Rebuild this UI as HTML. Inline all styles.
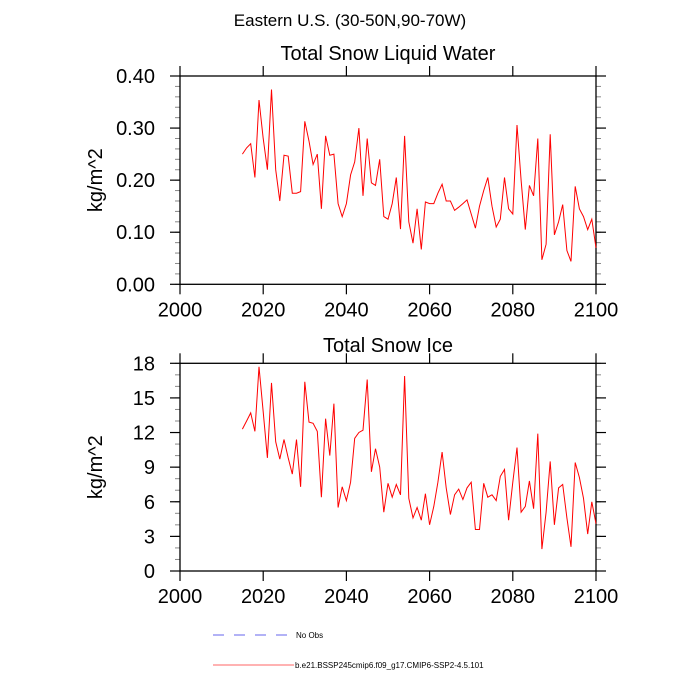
<!DOCTYPE html>
<html><head><meta charset="utf-8"><style>
body{margin:0;background:#fff}
svg{display:block;font-family:"Liberation Sans",sans-serif}
</style></head><body>
<svg id="c" width="700" height="700" viewBox="0 0 700 700">
<text x="350" y="26" font-size="17" text-anchor="middle">Eastern U.S. (30-50N,90-70W)</text>
</svg>
<script>
const years=[];for(let y=2015;y<=2100;y++)years.push(y);
const liquidWater=[0.25,0.262,0.27,0.205,0.354,0.28,0.22,0.374,0.22,0.16,0.248,0.246,0.175,0.175,0.178,0.313,0.275,0.23,0.25,0.145,0.285,0.248,0.25,0.155,0.13,0.155,0.21,0.235,0.30,0.17,0.28,0.195,0.19,0.24,0.13,0.125,
0.155,0.205,0.106,0.285,0.12,0.079,0.145,0.067,0.158,0.155,0.155,0.175,0.192,0.16,0.16,0.142,0.148,0.155,0.162,0.135,0.108,0.15,0.18,0.205,0.15,0.11,0.125,0.205,0.145,0.135,0.306,0.2,0.105,0.19,0.17,0.28,0.047,0.077,0.288,0.095,0.12,0.153,0.065,0.044,0.188,0.145,0.13,0.105,0.125,0.07];
const snowIce=[12.3,13.0,13.7,12.1,17.7,13.8,9.8,16.3,11.2,9.7,11.4,9.8,8.4,11.4,7.3,16.4,12.9,12.8,12.1,6.4,13.2,10.0,14.5,5.5,7.3,6.1,7.7,11.5,12.0,12.2,16.6,8.6,10.6,9.0,5.1,7.6,
6.4,7.5,6.6,16.9,6.3,4.6,5.5,4.4,6.7,4.0,5.6,7.7,10.3,7.2,4.9,6.6,7.1,6.2,7.2,7.7,3.6,3.6,7.6,6.4,6.6,6.1,8.2,8.8,4.4,7.7,10.7,5.1,5.6,7.8,5.4,11.9,1.9,5.1,9.5,4.0,7.2,7.5,4.6,2.1,9.4,8.1,6.3,3.2,6.0,4.1];
const xTicks=[2000,2020,2040,2060,2080,2100];
const topTicks=["0.00","0.10","0.20","0.30","0.40"];
const botTicks=["0","3","6","9","12","15","18"];
const NS="http://www.w3.org/2000/svg";
const svg=document.getElementById('c');
function mk(t,a,p){const e=document.createElementNS(NS,t);for(const k in a)e.setAttribute(k,a[k]);(p||svg).appendChild(e);return e;}
const X0=180,X1=596;
const xs=v=>X0+(v-2000)/100*(X1-X0);
function panel(name,top,bot,ymax,ticks,minorStep,data,title,titleY){
  const g=mk('g',{});
  
  
  const ys=v=>bot-(v/ymax)*(bot-top);
  const t=mk('text',{x:388,y:titleY,'font-size':20,'text-anchor':'middle'},g);t.textContent=title;
  
  
  for(let v=0;v<=ymax+1e-9;v+=minorStep){
    const y=ys(v);
    mk('line',{x1:X0-5,x2:X0,y1:y,y2:y,stroke:'#888','stroke-width':1},g);
    mk('line',{x1:X1,x2:X1+5,y1:y,y2:y,stroke:'#888','stroke-width':1},g);
  }
  ticks.forEach(s=>{
    const v=parseFloat(s),y=ys(v);
    mk('line',{x1:X0-10,x2:X0,y1:y,y2:y,stroke:'#000','stroke-width':1.2},g);
    mk('line',{x1:X1,x2:X1+10,y1:y,y2:y,stroke:'#000','stroke-width':1.2},g);
    const l=mk('text',{x:X0-25,y:y+7,'font-size':20,'text-anchor':'end'},g);l.textContent=s;
    
    
  });
  xTicks.forEach(v=>{
    const x=xs(v);
    mk('line',{x1:x,x2:x,y1:top-10,y2:top,stroke:'#000','stroke-width':1.2},g);
    mk('line',{x1:x,x2:x,y1:bot,y2:bot+10,stroke:'#000','stroke-width':1.2},g);
    const l=mk('text',{x:x,y:bot+32,'font-size':20,'text-anchor':'middle'},g);l.textContent=v;
    
    
  });
  mk('rect',{x:X0,y:top,width:X1-X0,height:bot-top,fill:'none',stroke:'#000','stroke-width':1.3},g);
  const yl=mk('text',{x:0,y:0,'font-size':20,'text-anchor':'middle',transform:`translate(102,${(top+bot)/2}) rotate(-90)`},g);yl.textContent='kg/m^2';
  
  
  const pts=data.map((v,i)=>xs(years[i]).toFixed(1)+','+ys(v).toFixed(1)).join(' ');
  const pl=mk('polyline',{points:pts,fill:'none',stroke:'#f00','stroke-width':1},g);
  
  
}
panel('liquid-water-panel',76,284.3,0.4,topTicks,0.02,liquidWater,'Total Snow Liquid Water',60);
panel('snow-ice-panel',363.3,571,18,botTicks,1,snowIce,'Total Snow Ice',352);
const lg=mk('g',{});


mk('line',{x1:213,x2:287,y1:635,y2:635,stroke:'#6666ee','stroke-width':1,'stroke-dasharray':'11,10'},lg);
let t1=mk('text',{x:296,y:638,'font-size':8},lg);t1.textContent='No Obs';


mk('line',{x1:213,x2:294,y1:665,y2:665,stroke:'#f66','stroke-width':1},lg);
let t2=mk('text',{x:295,y:668,'font-size':8},lg);t2.textContent='b.e21.BSSP245cmip6.f09_g17.CMIP6-SSP2-4.5.101';


</script>
</body></html>
